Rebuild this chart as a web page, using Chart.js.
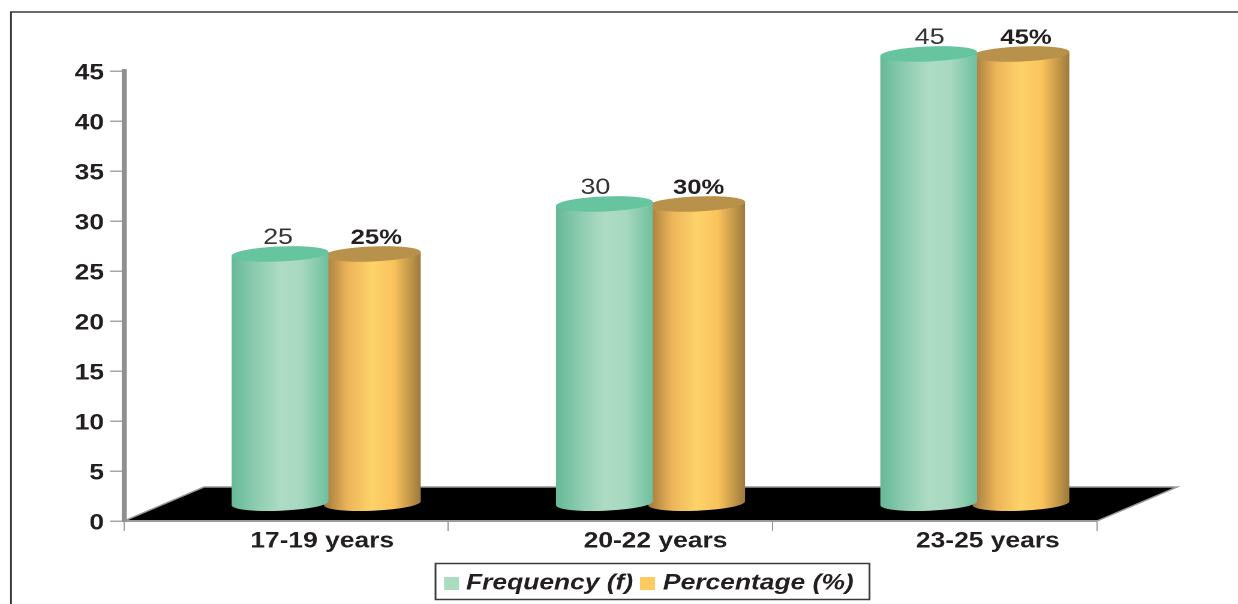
<!DOCTYPE html>
<html>
<head>
<meta charset="utf-8">
<title>Age distribution</title>
<script src="https://cdn.jsdelivr.net/npm/chart.js@4"></script>
<style>
    html, body { margin: 0; padding: 0; background: #fff; overflow: hidden; }
</style>
</head>
<body>
<!-- the reference is stretched sideways, text included, so the canvas is too -->
<canvas id="grafico" width="1032" height="604" style="width:1238px;height:604px;display:block"></canvas>
<script>
const categorias = ['17-19 years', '20-22 years', '23-25 years'];
const frequencia = [25, 30, 45];
const percentagem = [25, 30, 45];
const rotulosFrequencia = ['25', '30', '45'];
const rotulosPercentagem = ['25%', '30%', '45%'];
const rotulosSeries = ['Frequency (f)', 'Percentage (%)'];

const TEXTO = '#231f20';
const CINZA = '#9a9a9a';
const FONTE = '"Liberation Sans", Arial, sans-serif';
const ESCALA_X = 1238 / 1032;

// screen px to canvas px, horizontal only
const px = v => v / ESCALA_X;

// depth of the floor; the bars stand halfway back on it
const FUNDO_X = px(80);
const FUNDO_Y = 34;
const RAIO_Y = 7.5;
const INCLINACAO = -0.05;

// the labels in the reference are not evenly placed
const AJUSTE_CATEGORIAS = [0, 9, 17];

const estilos = [
    { paradas: ['#66b998', '#8dccb0', '#aedcc4', '#a8d9c0', '#6fc09f'], tampa: '#66c49f', rotulos: rotulosFrequencia, ajuste: [-2, -9, 1], fonte: `22.4px ${FONTE}`, cor: '#333333' },
    { paradas: ['#a07a3e', '#eeb65a', '#fdd36a', '#fbc35c', '#9c7a3c'], tampa: '#b8924a', rotulos: rotulosPercentagem, ajuste: [4, 2, 5], fonte: `bold 21.4px ${FONTE}`, cor: TEXTO }
];

function desenharCilindro(ctx, barra, estilo) {
    const raioX = barra.width * 1.05 / 2;
    const grad = ctx.createLinearGradient(barra.x - raioX, 0, barra.x + raioX, 0);
    [0, 0.25, 0.5, 0.72, 1].forEach((p, i) => grad.addColorStop(p, estilo.paradas[i]));

    ctx.beginPath();
    ctx.ellipse(barra.x, barra.y, raioX, RAIO_Y, INCLINACAO, Math.PI, Math.PI * 2);
    ctx.ellipse(barra.x, barra.base, raioX, RAIO_Y, INCLINACAO, 0, Math.PI);
    ctx.closePath();
    ctx.fillStyle = grad;
    ctx.fill();

    ctx.beginPath();
    ctx.ellipse(barra.x, barra.y, raioX, RAIO_Y, INCLINACAO, 0, Math.PI * 2);
    ctx.fillStyle = estilo.tampa;
    ctx.fill();
}

const pluginCena = {
    id: 'cena',
    afterLayout(chart) {
        chart.scales.x.getLabelItems().forEach((item, i) => {
            item.options.translation[0] += px(AJUSTE_CATEGORIAS[i]);
        });
    },
    beforeDraw(chart) {
        const { ctx } = chart;
        const { left, right, bottom } = chart.chartArea;

        // outer frame: top and left only
        ctx.save();
        ctx.strokeStyle = '#3a3a3a';
        ctx.lineWidth = 1.5;
        ctx.beginPath();
        ctx.moveTo(px(11), chart.height);
        ctx.lineTo(px(11), 12);
        ctx.lineTo(chart.width, 12);
        ctx.stroke();

        // floor
        ctx.beginPath();
        ctx.moveTo(left, bottom);
        ctx.lineTo(left + FUNDO_X, bottom - FUNDO_Y);
        ctx.lineTo(right + FUNDO_X, bottom - FUNDO_Y);
        ctx.lineTo(right, bottom);
        ctx.closePath();
        ctx.fillStyle = '#000000';
        ctx.fill();
        ctx.strokeStyle = CINZA;
        ctx.lineWidth = 1.5;
        ctx.stroke();
        ctx.restore();
    },
    beforeDatasetDraw(chart, args) {
        const { ctx } = chart;
        const estilo = estilos[args.index];
        ctx.save();
        ctx.translate(FUNDO_X / 2, -FUNDO_Y / 2);
        args.meta.data.forEach(barra => desenharCilindro(ctx, barra, estilo));
        ctx.restore();
        return false;
    },
    afterDatasetsDraw(chart) {
        const { ctx } = chart;
        ctx.save();
        ctx.textAlign = 'center';
        estilos.forEach((estilo, i) => {
            ctx.font = estilo.fonte;
            ctx.fillStyle = estilo.cor;
            chart.getDatasetMeta(i).data.forEach((barra, j) => {
                ctx.fillText(estilo.rotulos[j], barra.x + FUNDO_X / 2 + px(estilo.ajuste[j]), barra.y - FUNDO_Y / 2 - 10);
            });
        });
        ctx.restore();
        desenharLegenda(chart);
    }
};

function desenharLegenda(chart) {
    const { ctx } = chart;
    ctx.save();
    ctx.strokeStyle = '#3a3a3a';
    ctx.lineWidth = 1.5;
    ctx.strokeRect(px(435.5), 563.5, px(434), 36);

    ctx.font = `italic bold 22px ${FONTE}`;
    ctx.textBaseline = 'alphabetic';
    const posicoes = [[444, 466], [640, 663]];
    const cores = ['#aadcc0', '#fdcb62'];
    rotulosSeries.forEach((texto, i) => {
        ctx.fillStyle = cores[i];
        ctx.fillRect(px(posicoes[i][0]), 577, px(15), 13);
        ctx.fillStyle = TEXTO;
        ctx.fillText(texto, px(posicoes[i][1]), 589.5);
    });
    ctx.restore();
}

new Chart(document.getElementById('grafico'), {
    type: 'bar',
    data: {
        labels: categorias,
        datasets: [
            { label: rotulosSeries[0], data: frequencia, backgroundColor: '#aadcc0' },
            { label: rotulosSeries[1], data: percentagem, backgroundColor: '#fdcb62' }
        ]
    },
    options: {
        responsive: false,
        animation: false,
        devicePixelRatio: 2,
        layout: { padding: { top: 71, right: px(141), bottom: 0, left: 0 } },
        categoryPercentage: 0.569,
        barPercentage: 1,
        plugins: {
            legend: { display: false },
            tooltip: { enabled: false }
        },
        scales: {
            x: {
                afterFit(escala) { escala.height = 83; },
                border: { color: CINZA, width: 2 },
                grid: { drawOnChartArea: false, color: CINZA, tickLength: 10 },
                ticks: {
                    color: TEXTO,
                    padding: -3,
                    labelOffset: px(36),
                    maxRotation: 0,
                    font: { family: FONTE, size: 22, weight: 'bold' }
                }
            },
            y: {
                min: 0,
                max: 45,
                afterFit(escala) { escala.width = px(124); },
                border: { color: '#8f8f8f', width: px(5) },
                grid: { drawOnChartArea: false, color: '#a6a6a6', lineWidth: 1.5, tickLength: px(14) },
                ticks: {
                    stepSize: 5,
                    color: TEXTO,
                    padding: px(6),
                    labelOffset: 2.5,
                    font: { family: FONTE, size: 22, weight: 'bold' }
                }
            }
        }
    },
    plugins: [pluginCena]
});
</script>
</body>
</html>
